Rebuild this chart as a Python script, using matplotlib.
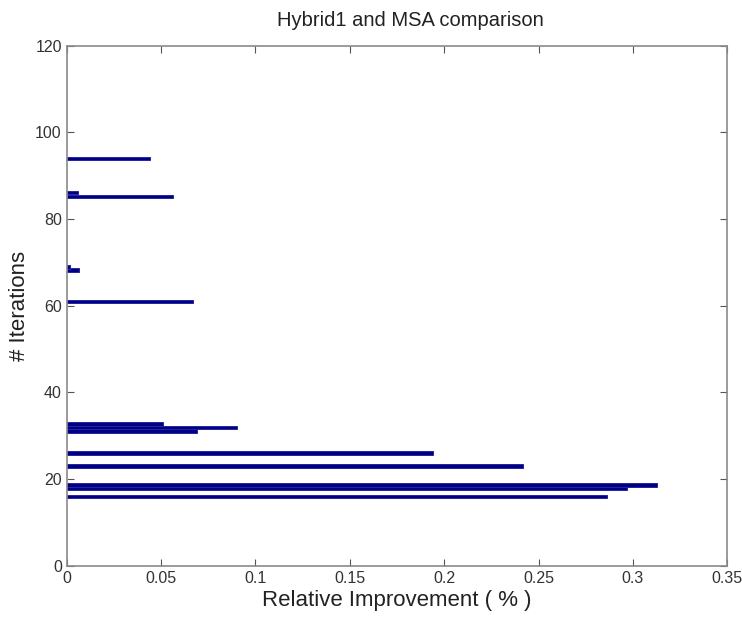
import matplotlib
matplotlib.use("Agg")
import matplotlib.pyplot as plt

plt.rcParams["font.family"] = ["Liberation Sans", "DejaVu Sans"]

# bar positions (# iterations) and relative improvement values
iterations = [16, 18, 18.7, 23, 26, 31.1, 31.9, 32.7, 61, 68.3, 69.0, 85.2, 86.1, 94]
improvement = [0.286, 0.297, 0.313, 0.242, 0.194, 0.069, 0.090, 0.051,
               0.067, 0.0065, 0.002, 0.0565, 0.0058, 0.044]

xticks = [0, 0.05, 0.1, 0.15, 0.2, 0.25, 0.3, 0.35]
xtick_labels = ["0", "0.05", "0.1", "0.15", "0.2", "0.25", "0.3", "0.35"]
yticks = [0, 20, 40, 60, 80, 100, 120]

fig = plt.figure(figsize=(7.42, 6.17), dpi=100)
ax = fig.add_axes([0.0899, 0.0831, 0.8903, 0.8428])

ax.barh(iterations, improvement, height=0.85, color="#000080",
        edgecolor="#2424a8", linewidth=0.7)

ax.set_xlim(0, 0.35)
ax.set_ylim(0, 120)
ax.set_xticks(xticks)
ax.set_xticklabels(xtick_labels)
ax.set_yticks(yticks)

ax.tick_params(direction="in", top=True, right=True, length=5,
               labelsize=11.5, colors="#555555", labelcolor="#333333")
for s in ax.spines.values():
    s.set_color("#8a8a8a")
    s.set_linewidth(1.2)

ax.set_title("Hybrid1 and MSA comparison", fontsize=14.5, color="#222222",
             x=0.52, pad=14)
ax.set_xlabel("Relative Improvement ( % )", fontsize=16, color="#222222", labelpad=3)
ax.set_ylabel("# Iterations", fontsize=16, color="#222222", labelpad=4)

fig.savefig("out.png", dpi=100)
